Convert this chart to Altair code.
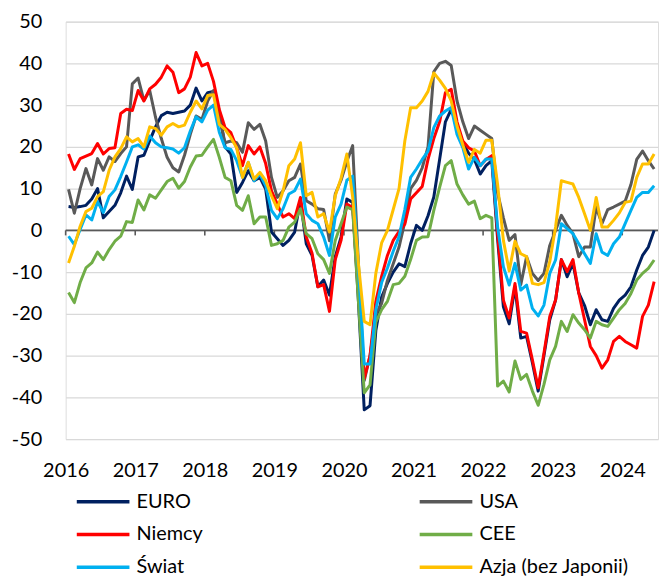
import altair as alt
import pandas as pd

series = ["EURO", "USA", "Niemcy", "CEE", "Świat", "Azja (bez Japonii)"]
colors = ["#002060", "#595959", "#FF0000", "#70AD47", "#00B0F0", "#FFC000"]
# legend is filled column by column: first column EURO, Niemcy, Świat
legend_order = ["EURO", "Niemcy", "Świat", "USA", "CEE", "Azja (bez Japonii)"]
year_ticks = list(range(2016, 2025))
y_ticks = list(range(-50, 51, 10))

euro = [5.7, 5.5, 5.7, 6, 7.5, 10, 3, 4.5, 6, 9, 13, 9.8,
        17.6, 18, 21.5, 24.8, 27.5, 28.3, 28, 28.3, 28.6, 30, 34.1, 31,
        33, 33.3, 28.6, 20, 18.3, 9.1, 11.5, 14.3, 11.9, 12.7, 9.9, -0.4,
        -2, -3.6, -2.4, -0.4, 7.1, -3.2, -6, -13.5, -11.9, -15.5, -6.3, -1.6,
        7.5, 6.7, -17, -43, -42, -24, -16, -12.7, -10, -8, -8.7, -3.2,
        1.2, 0, 3.5, 8, 17, 26, 29, 25, 21, 18.5, 17, 13.5,
        15.5, 16.7,
        -2, -18.3, -22.4, -13.5, -25.8, -25.4, -31.7, -38.5, -30, -21.4, -16.7, -7,
        -11.1, -7.9, -15, -18, -22.6, -19, -21.4, -21.8, -18.7, -16.7, -15.5, -13.5,
        -9.5, -6, -4, 0]

usa = [9.8, 4.1, 10, 14.8, 10.9, 17.2, 14.4, 17.6, 16.5, 18.4, 20, 35.1,
       36.5, 31.1, 33.5, 27.1, 22, 17.5, 15, 14, 18, 23, 27.4, 26.6,
       31, 33.5, 27, 21, 21.4, 21, 18.7, 25.8, 24.2, 25.4, 21.4, 12.7,
       7.9, 9.5, 11.9, 12.7, 15.9, 7.1, 6.3, 5.2, 5, -2.5, 8.7, 12,
       16.5, 20.3, -8, -36, -30, -20, -17.5, -12, -8, -4, 2, 10,
       12, 15, 20, 38, 40, 40.5, 39.5, 31, 26, 22, 25, 24,
       23, 22,
       9, 3, -2.4, -1, -13, -6.3, -10.3, -12, -10.3, -3.6, 0, 3.6,
       1.2, -0.8, -6.3, -4, -4, 5.6, 1.6, 5, 5.6, 6.3, 7, 11,
       17, 19, 16.7, 14.7]

niemcy = [18.3, 14.6, 17.2, 17.8, 18.4, 20.8, 18.3, 19.6, 19.8, 28, 29, 28.7,
          33.5, 31, 33.9, 35, 36.7, 39.4, 37.9, 33, 33.9, 36.7, 42.6, 39.4,
          40, 35.7, 29, 24.6, 23.4, 19.8, 15.5, 20.3, 18.3, 20, 16, 9.5,
          6.3, 3.2, 4, 2.8, 7.9, -1.6, -5.5, -13.5, -13, -19.4, -7, -2.4,
          6.3, 5.5, -15, -35.5, -30, -17, -11, -6, -2.4, -0.3, 1.5, 7.5,
          9, 10.5, 17, 22, 26, 33, 33.8, 26, 21.4, 19.8, 19, 15.5,
          17, 17.9,
          -0.8, -16.7, -21, -12.7, -24.2, -24.6, -31, -37.7, -29.4, -20.6, -16.7, -7,
          -9.9, -7, -15, -21.4, -27.8, -30, -33, -31, -26.6, -25.4, -26.6, -27.4,
          -28.2, -20.6, -17.9, -12.3]

cee = [-14.9, -17.3, -12.5, -9, -7.8, -5.2, -7, -4.6, -2.6, -1.4, 2.1, 1.9,
       7.3, 4.9, 8.5, 7.7, 9.7, 11.7, 12.5, 10.1, 11.7, 15.2, 17.8, 18,
       20, 21.8, 17.5, 12.7, 11.9, 6, 4.8, 8.3, 1.6, 3.2, 3.2, -3.6,
       -3.2, -2.4, 0.8, 2, 5.2, -0.8, -2, -5.6, -7, -10.3, -2.4, 1.6,
       5.6, 5, -17, -38.9, -37, -22, -19, -17, -13, -12.7, -11, -7,
       -2.4, -1.6, -1.5, 4.8, 10.3, 15.5, 16.7, 11.1, 8.5, 6.3, 7, 2.8,
       3.6, 3,
       -37.3, -36.1, -38.7, -31.3, -35.7, -34.5, -38.5, -41.9, -36.9, -31, -27.8, -21.8,
       -24.2, -20.2, -22.2, -23.8, -25.8, -21.8, -22.6, -23, -21, -19, -17.5, -15.1,
       -11.9, -10.3, -9.1, -7.1]

swiat = [-1.4, -3.4, 0.2, 3.7, 2.5, 6.9, 4.3, 8.1, 9.7, 12.9, 16.4, 20,
         20.5, 19.5, 22.6, 21, 20, 19.8, 19.5, 18.5, 19.8, 23.8, 27.2, 26,
         28.8, 30, 23.5, 19.8, 19.4, 16.7, 12.7, 16.3, 11.9, 13.5, 10.7, 4.8,
         2.8, 5.2, 8.7, 9.5, 12.3, 4, 2.4, 1.6, -1.6, -6, 3.2, 6.3,
         12, 13, -9, -32, -32, -19, -12.5, -9, -5, -1.5, 5, 12.7,
         14.7, 17, 19, 24.6, 27.4, 28.6, 29.4, 23, 19.8, 14.7, 17.5, 15.5,
         17.1, 17.1,
         0.8, -8.7, -13.1, -7.9, -14.3, -13.1, -18.7, -20.5, -17.9, -10.3, -7.1, 1.6,
         0.4, -0.8, -3.2, -5.6, -7.9, -0.8, -5.2, -6, -3.2, -1.6, 1.6, 4.8,
         7.9, 9.1, 9.1, 10.7]

azja = [-7.8, -3.8, 1, 4.5, 5.3, 8.1, 9.3, 14.4, 17.6, 19.6, 22.4, 21.2,
        22, 20, 24.8, 24.4, 22.8, 24.8, 25.6, 24.8, 25.2, 28.3, 31, 29.1,
        32.3, 32.5, 25.4, 24.2, 22.2, 19.8, 12.7, 16.3, 12.3, 13.9, 11.9, 8.3,
        5.2, 9.5, 15.5, 17.1, 21, 8.3, 9.1, 3.2, 4, -0.4, 8.3, 12.5,
        18.3, 8, -8, -21.8, -22.6, -10.3, -3, 0, 5, 10, 21.4, 29.4,
        29.4, 31, 33.3, 37.7, 36, 34, 31, 25, 20.5, 16.3, 19.4, 18.5,
        21.6, 21.6,
        11, -2.4, -9.7, -2.6, -5.6, -6.3, -12.7, -13, -12.5, -7.5, 0.8, 11.9,
        11.5, 11.1, 7.9, 4, 0, 7.9, 0.8, 0.8, 2.4, 4.2, 6.7, 7,
        12.7, 15.9, 15.9, 18.3]

values = [euro, usa, niemcy, cee, swiat, azja]

rows = []
for order, (name, vals) in enumerate(zip(series, values)):
    for i, v in enumerate(vals):
        rows.append({"t": 2016 + (i + 0.5) / 12, "v": v, "s": name, "o": order})
df = pd.DataFrame(rows)

color_of = dict(zip(series, colors))
legend_colors = [color_of[s] for s in legend_order]

font = "Lato"
x_scale = alt.Scale(domain=[2016, 2024.514], nice=False, zero=False)
y_scale = alt.Scale(domain=[-50, 50], nice=False)

zero_line = alt.Chart(pd.DataFrame({"y": [0]})).mark_rule(
    color="#595959", strokeWidth=1.6
).encode(y=alt.Y("y:Q", scale=y_scale))

ticks_df = pd.DataFrame({"t": year_ticks, "y0": [0] * len(year_ticks), "y1": [-1.2] * len(year_ticks)})
tick_marks = alt.Chart(ticks_df).mark_rule(color="#595959", strokeWidth=1.6).encode(
    x=alt.X("t:Q", scale=x_scale),
    y=alt.Y("y0:Q", scale=y_scale),
    y2="y1:Q",
)

lines = alt.Chart(df).mark_line(strokeWidth=3, strokeJoin="round").encode(
    x=alt.X(
        "t:Q",
        scale=x_scale,
        title=None,
        axis=alt.Axis(
            values=year_ticks, grid=False, domain=False, ticks=False,
            labelExpr="'' + datum.value", labelFont=font, labelFontSize=20,
            labelColor="#000000", labelPadding=22, labelFlush=False,
        ),
    ),
    y=alt.Y(
        "v:Q",
        scale=y_scale,
        title=None,
        axis=alt.Axis(
            values=y_ticks, grid=True, gridColor="#D9D9D9", gridWidth=1.3,
            domain=False, ticks=False, labelExpr="'' + datum.value",
            labelFont=font, labelFontSize=20, labelColor="#000000", labelPadding=24,
        ),
    ),
    color=alt.Color(
        "s:N",
        scale=alt.Scale(domain=legend_order, range=legend_colors),
        sort=legend_order,
        legend=alt.Legend(
            orient="none", legendX=26.7, legendY=472, columns=2, title=None,
            symbolType="M-3,0H3", symbolSize=312, symbolStrokeWidth=3.5,
            labelFont=font, labelFontSize=20, labelColor="#000000",
            labelOffset=22.6, columnPadding=210, rowPadding=12, padding=0,
            labelLimit=400,
        ),
    ),
    order="o:Q",
    detail="s:N",
)

chart = alt.layer(zero_line, tick_marks, lines).properties(
    width=596, height=420,
    autosize=alt.AutoSizeParams(type="none"),
    padding={"left": 58, "top": 12, "right": 1, "bottom": 138},
).configure_view(stroke=None).configure(font=font)

chart.save("out.html", embed_options={"renderer": "svg", "actions": False})
